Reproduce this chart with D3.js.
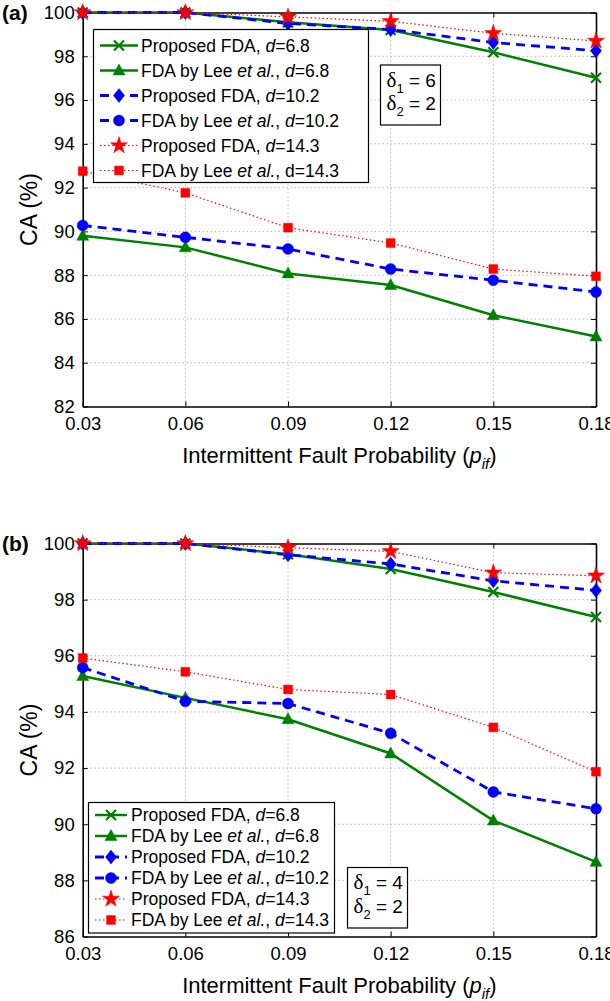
<!DOCTYPE html>
<html>
<head>
<meta charset="utf-8">
<script src="https://cdn.jsdelivr.net/npm/d3@7"></script>
<style>
body { margin: 0; background: #fff; }
text { font-family: "Liberation Sans", Arial, Helvetica, sans-serif; fill: #000; }
</style>
</head>
<body>
<script>
// x values (intermittent fault probability) and their labels
var pifValues = [0.03, 0.06, 0.09, 0.12, 0.15, 0.18];
var xTickLabels = ["0.03", "0.06", "0.09", "0.12", "0.15", "0.18"];

// panel (a): delta1 = 6, delta2 = 2
var aTicks = [82, 84, 86, 88, 90, 92, 94, 96, 98, 100];
var aPropD68  = [100, 100, 99.55, 99.20, 98.18, 97.02];
var aLeeD68   = [89.80, 89.27, 88.08, 87.55, 86.17, 85.20];
var aPropD102 = [100, 100, 99.50, 99.22, 98.63, 98.25];
var aLeeD102  = [90.27, 89.73, 89.20, 88.28, 87.77, 87.23];
var aPropD143 = [100, 100, 99.80, 99.60, 99.05, 98.70];
var aLeeD143  = [92.75, 91.76, 90.17, 89.47, 88.28, 87.95];

// panel (b): delta1 = 4, delta2 = 2
var bTicks = [86, 88, 90, 92, 94, 96, 98, 100];
var bPropD68  = [100, 100, 99.62, 99.09, 98.27, 97.38];
var bLeeD68   = [95.28, 94.50, 93.74, 92.52, 90.13, 88.66];
var bPropD102 = [100, 100, 99.60, 99.27, 98.67, 98.33];
var bLeeD102  = [95.58, 94.38, 94.30, 93.24, 91.15, 90.55];
var bPropD143 = [100, 100, 99.85, 99.72, 98.96, 98.85];
var bLeeD143  = [95.92, 95.43, 94.80, 94.62, 93.45, 91.87];

// legend labels as [text, italic] pieces
var legendA = [
  [["Proposed FDA, ", 0], ["d", 1], ["=6.8", 0]],
  [["FDA by Lee ", 0], ["et al.", 1], [", ", 0], ["d", 1], ["=6.8", 0]],
  [["Proposed FDA, ", 0], ["d", 1], ["=10.2", 0]],
  [["FDA by Lee ", 0], ["et al.", 1], [", ", 0], ["d", 1], ["=10.2", 0]],
  [["Proposed FDA, ", 0], ["d", 1], ["=14.3", 0]],
  [["FDA by Lee ", 0], ["et al.", 1], [", d=14.3", 0]]
];
var legendB = [
  [["Proposed FDA, ", 0], ["d", 1], ["=6.8", 0]],
  [["FDA by Lee ", 0], ["et al.", 1], [", ", 0], ["d", 1], ["=6.8", 0]],
  [["Proposed FDA, ", 0], ["d", 1], ["=10.2", 0]],
  [["FDA by Lee ", 0], ["et al.", 1], [", ", 0], ["d", 1], ["=10.2", 0]],
  [["Proposed FDA, ", 0], ["d", 1], ["=14.3", 0]],
  [["FDA by Lee ", 0], ["et al.", 1], [", ", 0], ["d", 1], ["=14.3", 0]]
];

// marker shapes
var markX = { draw: function(c) { var r = 5; c.moveTo(-r, -r); c.lineTo(r, r); c.moveTo(r, -r); c.lineTo(-r, r); } };
var markTri = { draw: function(c) { c.moveTo(0, -6.5); c.lineTo(6, 4.5); c.lineTo(-6, 4.5); c.closePath(); } };
var markDiamond = { draw: function(c) { c.moveTo(0, -7); c.lineTo(5.5, 0); c.lineTo(0, 7); c.lineTo(-5.5, 0); c.closePath(); } };

var styles = [
  { color: "#008000", dash: null, width: 2.5, shape: markX, size: 64, stroke: true },
  { color: "#008000", dash: null, width: 2.5, shape: markTri, size: 64 },
  { color: "#0000ff", dash: "9,6", width: 2.8, shape: markDiamond, size: 64 },
  { color: "#0000ff", dash: "9,6", width: 2.8, shape: d3.symbolCircle, size: 95 },
  { color: "#ff0000", dash: "1.5,2.5", width: 1.2, shape: d3.symbolStar, size: 90 },
  { color: "#ff0000", dash: "1.5,2.5", width: 1.2, shape: d3.symbolSquare, size: 78 }
];

var svg = d3.select("body").append("svg")
  .attr("width", 610).attr("height", 1001);

function drawPanel(p) {
  var x = d3.scaleLinear().domain([0.03, 0.18]).range([82.7, 596]);
  var y = d3.scaleLinear().domain([p.ticks[0], 100]).range([p.bottom, p.top]);
  var g = svg.append("g");

  // dotted grid
  g.selectAll(".gx").data(pifValues.slice(1, -1)).enter().append("line")
    .attr("x1", d => x(d)).attr("x2", d => x(d))
    .attr("y1", p.top).attr("y2", p.bottom)
    .attr("stroke", "#999").attr("stroke-width", 1).attr("stroke-dasharray", "1,3");
  g.selectAll(".gy").data(p.ticks.slice(1, -1)).enter().append("line")
    .attr("x1", x(0.03)).attr("x2", x(0.18))
    .attr("y1", d => y(d)).attr("y2", d => y(d))
    .attr("stroke", "#999").attr("stroke-width", 1).attr("stroke-dasharray", "1,3");

  // axes with inward ticks
  var left = g.append("g").attr("transform", "translate(" + x(0.03) + ",0)")
    .call(d3.axisLeft(y).tickValues(p.ticks).tickSizeInner(-5).tickSizeOuter(0).tickPadding(8));
  var right = g.append("g").attr("transform", "translate(" + x(0.18) + ",0)")
    .call(d3.axisRight(y).tickValues(p.ticks).tickSizeInner(-5).tickSizeOuter(0).tickFormat(""));
  var bottom = g.append("g").attr("transform", "translate(0," + p.bottom + ")")
    .call(d3.axisBottom(x).tickValues(pifValues).tickSizeInner(-5).tickSizeOuter(0).tickPadding(10)
      .tickFormat((d, i) => xTickLabels[i]));
  var top = g.append("g").attr("transform", "translate(0," + p.top + ")")
    .call(d3.axisTop(x).tickValues(pifValues).tickSizeInner(-5).tickSizeOuter(0).tickFormat(""));
  [left, right, bottom, top].forEach(function(a) {
    a.select(".domain").attr("stroke", "#000").attr("stroke-width", 1.6);
    a.selectAll(".tick line").attr("stroke", "#000").attr("stroke-width", 1);
    a.selectAll("text").attr("font-size", 18.5).attr("font-family", "Liberation Sans, Arial, sans-serif");
  });

  // series lines and markers
  p.series.forEach(function(vals, k) {
    var s = styles[k];
    var line = d3.line().x((d, i) => x(pifValues[i])).y(d => y(d));
    g.append("path").attr("d", line(vals))
      .attr("fill", "none").attr("stroke", s.color).attr("stroke-width", s.width)
      .attr("stroke-dasharray", s.dash);
  });
  p.series.forEach(function(vals, k) {
    var s = styles[k];
    g.selectAll(".m" + k).data(vals).enter().append("path")
      .attr("transform", (d, i) => "translate(" + x(pifValues[i]) + "," + y(d) + ")")
      .attr("d", d3.symbol().type(s.shape).size(s.size))
      .attr("fill", s.stroke ? "none" : s.color)
      .attr("stroke", s.color).attr("stroke-width", s.stroke ? 2.2 : 0.5);
  });

  // legend
  var L = p.legend;
  g.append("rect").attr("x", L.x).attr("y", L.y).attr("width", L.w).attr("height", L.h)
    .attr("fill", "#fff").attr("stroke", "#000").attr("stroke-width", 1.2);
  L.labels.forEach(function(lab, k) {
    var s = styles[k], cy = L.row0 + k * L.step;
    g.append("line").attr("x1", L.lx0).attr("x2", L.lx1).attr("y1", cy).attr("y2", cy)
      .attr("stroke", s.color).attr("stroke-width", s.width).attr("stroke-dasharray", s.dash);
    g.append("path").attr("transform", "translate(" + (L.lx0 + L.lx1) / 2 + "," + cy + ")")
      .attr("d", d3.symbol().type(s.shape).size(s.size))
      .attr("fill", s.stroke ? "none" : s.color)
      .attr("stroke", s.color).attr("stroke-width", s.stroke ? 2.2 : 0.5);
    var t = g.append("text").attr("x", L.tx).attr("y", cy).attr("dy", "0.36em")
      .attr("font-size", L.font);
    lab.forEach(function(piece) {
      t.append("tspan").text(piece[0]).attr("font-style", piece[1] ? "italic" : null);
    });
  });

  // delta box
  var D = p.delta;
  g.append("rect").attr("x", D.x).attr("y", D.y).attr("width", D.w).attr("height", D.h)
    .attr("fill", "#fff").attr("stroke", "#000").attr("stroke-width", 1.2);
  [[1, p.d1, D.r1], [2, 2, D.r2]].forEach(function(row) {
    var t = g.append("text").attr("x", D.x + 6).attr("y", row[2]).attr("font-size", 19);
    t.append("tspan").text("δ").attr("font-family", "Liberation Serif, serif").attr("font-size", 21);
    t.append("tspan").text(row[0]).attr("font-size", 13).attr("dy", 6);
    t.append("tspan").text(" = " + row[1]).attr("dy", -6);
  });

  // labels
  g.append("text").attr("x", 2).attr("y", p.top + 7).attr("font-size", 21)
    .attr("font-weight", "bold").attr("font-family", "Liberation Serif, Times New Roman, serif")
    .text(p.label);
  g.append("text").attr("transform", "translate(37," + (p.top + p.bottom) / 2 + ") rotate(-90)")
    .attr("text-anchor", "middle").attr("font-size", 23).text("CA (%)");
  var xt = g.append("text").attr("x", (x(0.03) + x(0.18)) / 2).attr("y", p.bottom + 56)
    .attr("text-anchor", "middle").attr("font-size", 22);
  xt.append("tspan").text("Intermittent Fault Probability (");
  xt.append("tspan").text("p").attr("font-style", "italic");
  xt.append("tspan").text("if").attr("font-style", "italic").attr("font-size", 15).attr("dy", 6);
  xt.append("tspan").text(")").attr("dy", -6);
}

drawPanel({
  label: "(a)", top: 12.5, bottom: 406.5, ticks: aTicks, d1: 6,
  series: [aPropD68, aLeeD68, aPropD102, aLeeD102, aPropD143, aLeeD143],
  legend: { x: 93.5, y: 29.5, w: 275, h: 153, row0: 45.5, step: 25, lx0: 100, lx1: 138, tx: 141, font: 17.5, labels: legendA },
  delta: { x: 380.5, y: 65, w: 60, h: 60, r1: 87, r2: 110 }
});
drawPanel({
  label: "(b)", top: 543.5, bottom: 936.5, ticks: bTicks, d1: 4,
  series: [bPropD68, bLeeD68, bPropD102, bLeeD102, bPropD143, bLeeD143],
  legend: { x: 88.5, y: 802.5, w: 246, h: 130.5, row0: 815, step: 21, lx0: 95, lx1: 127, tx: 131, font: 17.5, labels: legendB },
  delta: { x: 347.5, y: 867.5, w: 60, h: 60.5, r1: 889, r2: 913 }
});
</script>
</body>
</html>
